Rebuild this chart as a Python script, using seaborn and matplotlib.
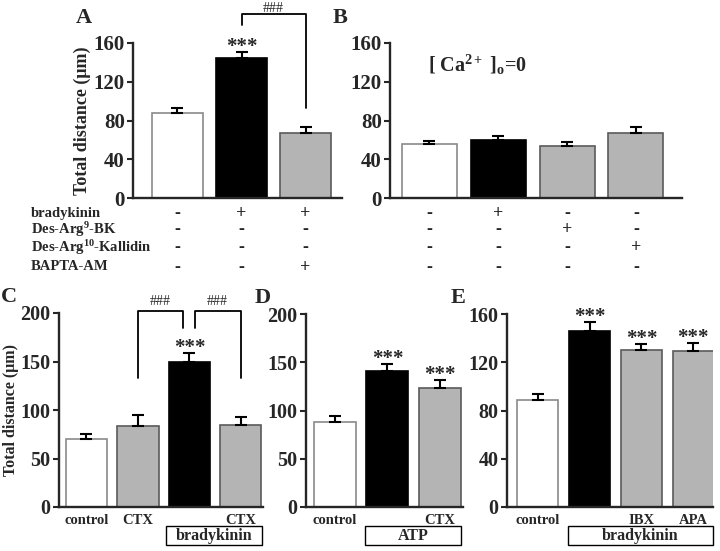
import numpy as np
import pandas as pd
import matplotlib
matplotlib.use("Agg")
import matplotlib.pyplot as plt
import matplotlib.transforms as mtransforms
from matplotlib.patches import Rectangle
import seaborn as sns

sns.set_style("ticks")
plt.rcParams['font.family'] = ['Liberation Serif', 'DejaVu Serif']
plt.rcParams['font.weight'] = 'bold'
plt.rcParams['mathtext.fontset'] = 'custom'
plt.rcParams['mathtext.rm'] = 'Liberation Serif:bold'
plt.rcParams['mathtext.bf'] = 'Liberation Serif:bold'
plt.rcParams['mathtext.it'] = 'Liberation Serif:bold'

# Panel A: bradykinin +/- BAPTA-AM
A_cond = ["control", "bradykinin", "bradykinin+BAPTA"]
A_mean = [88, 145, 67]
A_sem = [5, 6, 6.5]
A_color = ["white", "black", "grey"]

# Panel B: Ca-free medium
B_cond = ["control", "bradykinin", "Des-Arg9-BK", "Des-Arg10-Kallidin"]
B_mean = [56, 60, 54, 67]
B_sem = [3, 4, 3.5, 6.5]
B_color = ["white", "black", "grey", "grey"]

# treatment table under A and B
row_names = ["bradykinin", r"Des-Arg$^{9}$-BK", r"Des-Arg$^{10}$-Kallidin", "BAPTA-AM"]
A_signs = [["-", "+", "+"], ["-", "-", "-"], ["-", "-", "-"], ["-", "-", "+"]]
B_signs = [["-", "+", "-", "-"], ["-", "-", "+", "-"], ["-", "-", "-", "+"], ["-", "-", "-", "-"]]

# Panel C: CTX
C_cond = ["control", "CTX", "bradykinin", "bradykinin+CTX"]
C_mean = [70, 84, 149, 85]
C_sem = [5, 11, 10, 8]
C_color = ["white", "grey", "black", "grey"]
C_ticks = ["control", "CTX", "", "CTX"]

# Panel D: ATP
D_cond = ["control", "ATP", "ATP+CTX"]
D_mean = [88, 141, 123]
D_sem = [6, 7, 8.5]
D_color = ["white", "black", "grey"]
D_ticks = ["control", "", "CTX"]

# Panel E: IBX / APA
E_cond = ["control", "bradykinin", "bradykinin+IBX", "bradykinin+APA"]
E_mean = [88.5, 146, 130, 129]
E_sem = [5.5, 7, 5, 7]
E_color = ["white", "black", "grey", "grey"]
E_ticks = ["control", "", "IBX", "APA"]

fills = {"white": "white", "black": "black", "grey": "#b4b4b4"}
edges = {"white": "#8a8a8a", "black": "black", "grey": "#5a5a5a"}

W, H = 720, 551
fig = plt.figure(figsize=(7.2, 5.51), dpi=100)


def px_axes(x0, y0, x1, y1):
    return fig.add_axes([x0 / W, 1 - y1 / H, (x1 - x0) / W, (y1 - y0) / H])


def fx(x):
    return x / W


def fy(y):
    return 1 - y / H


def panel(ax, cond, mean, sem, colors, xlim, ylim, yticks, fs):
    df = pd.DataFrame({"cond": cond, "mean": mean})
    sns.barplot(data=df, x="cond", y="mean", hue="cond", order=cond,
                palette=[fills[c] for c in colors], legend=False,
                width=0.8, ax=ax, saturation=1)
    for p, c in zip(ax.patches, colors):
        p.set_edgecolor(edges[c])
        p.set_linewidth(1.2)
    n = len(cond)
    ax.errorbar(np.arange(n), mean, yerr=[np.zeros(n), sem], fmt="none",
                ecolor="black", elinewidth=1.5, capsize=4, capthick=1.5)
    ax.set_xlim(*xlim)
    ax.set_ylim(*ylim)
    ax.set_yticks(yticks)
    ax.set_xlabel("")
    ax.set_ylabel("")
    sns.despine(ax=ax)
    for s in ["left", "bottom"]:
        ax.spines[s].set_linewidth(1.7)
    ax.tick_params(axis="y", length=4, width=1.5, labelsize=fs, pad=2)
    ax.tick_params(axis="x", length=0, labelsize=10.5, pad=5)
    for t in ax.get_yticklabels():
        t.set_fontweight("bold")


def stars(ax, i, mean, sem, size=15):
    ax.text(i, mean[i] + sem[i], "***", ha="center", va="baseline",
            fontsize=size, fontweight="bold", clip_on=False)


def bracket(ax, x0, x1, ytop, y0, y1, label=None, lx=None, dy=7):
    ax.plot([x0, x0, x1, x1], [y0, ytop, ytop, y1], color="black", lw=1.3,
            clip_on=False)
    if label:
        ax.text(lx if lx is not None else (x0 + x1) / 2, ytop + dy, label,
                ha="center", va="center", fontsize=10, fontweight="normal",
                clip_on=False)


# ---- A
axA = px_axes(133, 43, 342, 198)
panel(axA, A_cond, A_mean, A_sem, A_color, (-0.695, 2.57), (0, 160),
      [0, 40, 80, 120, 160], 15)
axA.set_xticks([])
axA.set_ylabel("Total distance (\u03bcm)", fontsize=13, fontweight="bold",
               labelpad=2)
stars(axA, 1, A_mean, A_sem)
bracket(axA, 1, 2, 190, 179, 93, "###", dy=6)

# ---- B
axB = px_axes(390, 43, 682, 198)
panel(axB, B_cond, B_mean, B_sem, B_color, (-0.574, 3.67), (0, 160),
      [0, 40, 80, 120, 160], 15)
axB.set_xticks([])
axB.text(0.7, 137, r"[ Ca$^{2+}$ ]$_{\mathrm{o}}$=0", fontsize=14.5,
         fontweight="bold", va="center", ha="center")

row_y = [213, 230, 248, 267]
for name, y in zip(row_names, row_y):
    fig.text(fx(31), fy(y), name, fontsize=10.5, fontweight="bold",
             va="center", ha="left")
for ax, signs in [(axA, A_signs), (axB, B_signs)]:
    tr = mtransforms.blended_transform_factory(ax.transData, fig.transFigure)
    for row, y in zip(signs, row_y):
        for i, s in enumerate(row):
            ax.text(i, fy(y), s, transform=tr, fontsize=13, fontweight="bold",
                    ha="center", va="center", clip_on=False)

# ---- C
axC = px_axes(59, 313, 263, 507)
panel(axC, C_cond, C_mean, C_sem, C_color, (-0.534, 3.43), (0, 200),
      [0, 50, 100, 150, 200], 14.5)
axC.set_xticks(range(4))
axC.set_xticklabels(C_ticks, fontweight="bold")
axC.set_ylabel("Total distance (\u03bcm)", fontsize=11.5, fontweight="bold",
               labelpad=1)
stars(axC, 2, C_mean, C_sem)
bracket(axC, 1, 1.87, 202, 133, 184.5, "###", lx=1.43, dy=10)
bracket(axC, 2.1, 3, 202, 184.5, 133, "###", lx=2.54, dy=10)

# ---- D
axD = px_axes(306, 314, 463, 507)
panel(axD, D_cond, D_mean, D_sem, D_color, (-0.55, 2.44), (0, 200),
      [0, 50, 100, 150, 200], 14.5)
axD.set_xticks(range(3))
axD.set_xticklabels(D_ticks, fontweight="bold")
stars(axD, 1, D_mean, D_sem)
stars(axD, 2, D_mean, D_sem)

# ---- E
axE = px_axes(507, 314, 713, 507)
panel(axE, E_cond, E_mean, E_sem, E_color, (-0.59, 3.38), (0, 160),
      [0, 40, 80, 120, 160], 14.5)
axE.set_xticks(range(4))
axE.set_xticklabels(E_ticks, fontweight="bold")
for i in (1, 2, 3):
    stars(axE, i, E_mean, E_sem)

# boxed treatment labels
for x0, x1, label in [(166, 262, "bradykinin"), (365, 461, "ATP"),
                      (568, 713, "bradykinin")]:
    fig.patches.append(Rectangle((fx(x0), fy(545)), (x1 - x0) / W, 19 / H,
                                 transform=fig.transFigure, fill=False,
                                 edgecolor="black", lw=1.0))
    fig.text(fx((x0 + x1) / 2), fy(535.5), label, fontsize=11.5,
             fontweight="bold", ha="center", va="center")

# panel letters
for x, y, letter in [(84, 18, "A"), (340, 18, "B"), (9, 297, "C"),
                     (263, 298, "D"), (458, 298, "E")]:
    fig.text(fx(x), fy(y), letter, fontsize=16, fontweight="bold",
             ha="center", va="center")

fig.savefig("out.png", dpi=100)
